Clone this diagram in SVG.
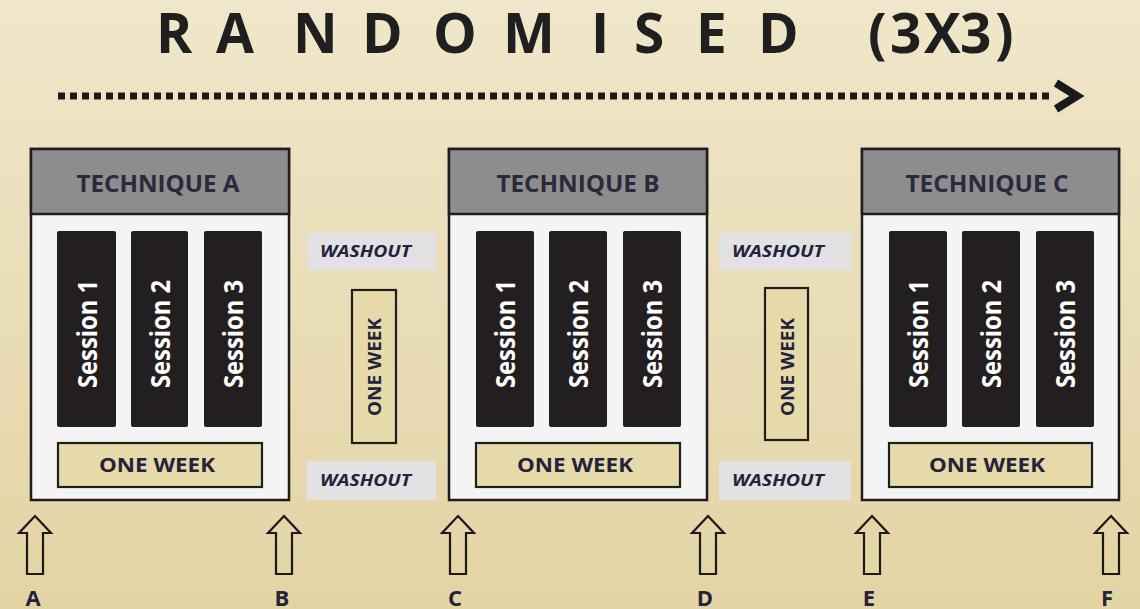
<svg xmlns="http://www.w3.org/2000/svg" width="1140" height="609" viewBox="0 0 1140 609">
<defs>
<linearGradient id="bg" x1="0" y1="0" x2="0" y2="1">
<stop offset="0" stop-color="#f0e7ca"/>
<stop offset="1" stop-color="#e3d4a4"/>
</linearGradient>
<style>
.frame{fill:#f4f4f4;stroke:#1e1e1e;stroke-width:2.5}
.head{fill:#8d8d90;stroke:#1e1e1e;stroke-width:2.5}
.bar{fill:#231f20}
.wk{fill:#e6d9aa;stroke:#1e1e1e;stroke-width:2.2}
.wash{fill:#e2e2e4}
.ht{font-family:"Open Sans","Liberation Sans",sans-serif;font-weight:700;font-size:24px;fill:#2a2a3a;text-anchor:middle}
.st{font-family:"Open Sans","Liberation Sans",sans-serif;font-weight:700;font-size:26px;fill:#ffffff;text-anchor:middle}
.wt{font-family:"Open Sans","Liberation Sans",sans-serif;font-weight:700;font-size:20px;fill:#23233a;text-anchor:middle}
.vt{font-family:"Open Sans","Liberation Sans",sans-serif;font-weight:700;font-size:18px;fill:#23233a;text-anchor:middle}
.wo{font-family:"Open Sans","Liberation Sans",sans-serif;font-weight:700;font-style:italic;font-size:16px;fill:#23233a}
.lab{font-family:"Open Sans","Liberation Sans",sans-serif;font-weight:700;font-size:22px;fill:#23233a;text-anchor:middle}
.title{font-family:"Open Sans","Liberation Sans",sans-serif;font-weight:700;font-size:55px;fill:#1f1f1f}
.up{fill:none;stroke:#1a1a1a;stroke-width:2.2;stroke-linejoin:miter}
</style>
</defs>
<rect x="0" y="0" width="1140" height="609" fill="url(#bg)"/>

<g id="title">
<text class="title" x="156 216 293 362 433 503 591 634 696 758" y="53">RANDOMISED</text>
<text class="title" x="868 890 924 960 995" y="53" font-size="56">(3X3)</text>
</g>

<g id="techniqueA">
<rect class="frame" x="31" y="149" width="258" height="351"/>
<rect class="head" x="31" y="149" width="258" height="65"/>
<text class="ht" x="158" y="192" textLength="163" lengthAdjust="spacingAndGlyphs">TECHNIQUE A</text>
<rect class="bar" x="57" y="231" width="59" height="196" rx="2"/>
<rect class="bar" x="131" y="231" width="57" height="196" rx="2"/>
<rect class="bar" x="204" y="231" width="58" height="196" rx="2"/>
<text class="st" transform="translate(97,334) rotate(-90)" textLength="108" lengthAdjust="spacingAndGlyphs">Session 1</text>
<text class="st" transform="translate(170,334) rotate(-90)" textLength="108" lengthAdjust="spacingAndGlyphs">Session 2</text>
<text class="st" transform="translate(243,334) rotate(-90)" textLength="108" lengthAdjust="spacingAndGlyphs">Session 3</text>
<rect class="wk" x="58" y="443" width="204" height="44"/>
<text class="wt" x="157" y="472" textLength="116" lengthAdjust="spacingAndGlyphs">ONE WEEK</text>
</g>

<g id="washout1">
<rect class="wash" x="307" y="233" width="129" height="37"/>
<text class="wo" x="320" y="257" textLength="91" lengthAdjust="spacingAndGlyphs">WASHOUT</text>
<rect class="wk" x="352" y="290" width="44" height="153"/>
<text class="vt" transform="translate(381,367) rotate(-90)" textLength="98" lengthAdjust="spacingAndGlyphs">ONE WEEK</text>
<rect class="wash" x="307" y="461" width="129" height="39"/>
<text class="wo" x="320" y="486" textLength="91" lengthAdjust="spacingAndGlyphs">WASHOUT</text>
</g>

<g id="techniqueB">
<rect class="frame" x="449" y="149" width="258" height="351"/>
<rect class="head" x="449" y="149" width="258" height="65"/>
<text class="ht" x="578" y="192" textLength="163" lengthAdjust="spacingAndGlyphs">TECHNIQUE B</text>
<rect class="bar" x="476" y="231" width="58" height="196" rx="2"/>
<rect class="bar" x="549" y="231" width="58" height="196" rx="2"/>
<rect class="bar" x="623" y="231" width="58" height="196" rx="2"/>
<text class="st" transform="translate(515,334) rotate(-90)" textLength="108" lengthAdjust="spacingAndGlyphs">Session 1</text>
<text class="st" transform="translate(588,334) rotate(-90)" textLength="108" lengthAdjust="spacingAndGlyphs">Session 2</text>
<text class="st" transform="translate(662,334) rotate(-90)" textLength="108" lengthAdjust="spacingAndGlyphs">Session 3</text>
<rect class="wk" x="476" y="443" width="204" height="44"/>
<text class="wt" x="575" y="472" textLength="116" lengthAdjust="spacingAndGlyphs">ONE WEEK</text>
</g>

<g id="washout2">
<rect class="wash" x="719" y="233" width="132" height="37"/>
<text class="wo" x="732" y="257" textLength="92" lengthAdjust="spacingAndGlyphs">WASHOUT</text>
<rect class="wk" x="765" y="288" width="43" height="152"/>
<text class="vt" transform="translate(794,367) rotate(-90)" textLength="98" lengthAdjust="spacingAndGlyphs">ONE WEEK</text>
<rect class="wash" x="719" y="461" width="132" height="39"/>
<text class="wo" x="732" y="486" textLength="92" lengthAdjust="spacingAndGlyphs">WASHOUT</text>
</g>

<g id="techniqueC">
<rect class="frame" x="862" y="149" width="257" height="351"/>
<rect class="head" x="862" y="149" width="257" height="65"/>
<text class="ht" x="987" y="192" textLength="163" lengthAdjust="spacingAndGlyphs">TECHNIQUE C</text>
<rect class="bar" x="889" y="231" width="58" height="196" rx="2"/>
<rect class="bar" x="962" y="231" width="58" height="196" rx="2"/>
<rect class="bar" x="1036" y="231" width="58" height="196" rx="2"/>
<text class="st" transform="translate(928,334) rotate(-90)" textLength="108" lengthAdjust="spacingAndGlyphs">Session 1</text>
<text class="st" transform="translate(1001,334) rotate(-90)" textLength="108" lengthAdjust="spacingAndGlyphs">Session 2</text>
<text class="st" transform="translate(1075,334) rotate(-90)" textLength="108" lengthAdjust="spacingAndGlyphs">Session 3</text>
<rect class="wk" x="889" y="443" width="203" height="44"/>
<text class="wt" x="987" y="472" textLength="116" lengthAdjust="spacingAndGlyphs">ONE WEEK</text>
</g>

<g id="connectors">
<line x1="58" y1="96" x2="1050" y2="96" stroke="#1a1a1a" stroke-width="7" stroke-dasharray="7 5"/>
<polyline points="1056,83 1077,96 1056,109" fill="none" stroke="#1a1a1a" stroke-width="8" stroke-linejoin="miter"/>
<path class="up" d="M35,516 L51,533 L43,533 L43,574 L27,574 L27,533 L19,533 Z"/>
<path class="up" d="M284,516 L300,533 L292,533 L292,574 L276,574 L276,533 L268,533 Z"/>
<path class="up" d="M458,516 L474,533 L466,533 L466,574 L450,574 L450,533 L442,533 Z"/>
<path class="up" d="M708,516 L724,533 L716,533 L716,574 L700,574 L700,533 L692,533 Z"/>
<path class="up" d="M872,516 L888,533 L880,533 L880,574 L864,574 L864,533 L856,533 Z"/>
<path class="up" d="M1111,516 L1127,533 L1119,533 L1119,574 L1103,574 L1103,533 L1095,533 Z"/>
</g>

<g id="labels">
<text class="lab" x="33" y="606">A</text>
<text class="lab" x="282" y="606">B</text>
<text class="lab" x="455" y="606">C</text>
<text class="lab" x="705" y="606">D</text>
<text class="lab" x="869" y="606">E</text>
<text class="lab" x="1107" y="606">F</text>
</g>
</svg>
